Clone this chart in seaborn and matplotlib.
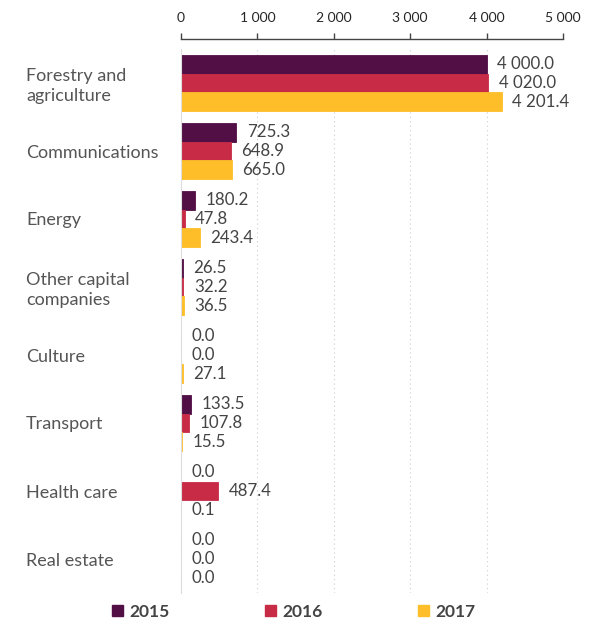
import matplotlib
matplotlib.use("Agg")
import matplotlib.pyplot as plt
import seaborn as sns
import pandas as pd
from matplotlib.patches import Patch

categories = ["Forestry and\nagriculture", "Communications", "Energy", "Other capital\ncompanies",
              "Culture", "Transport", "Health care", "Real estate"]
years = ["2015", "2016", "2017"]
v2015 = [4000.0, 725.3, 180.2, 26.5, 0.0, 133.5, 0.0, 0.0]
v2016 = [4020.0, 648.9, 47.8, 32.2, 0.0, 107.8, 487.4, 0.0]
v2017 = [4201.4, 665.0, 243.4, 36.5, 27.1, 15.5, 0.1, 0.0]
xticks = [0, 1000, 2000, 3000, 4000, 5000]
colors = ["#520F45", "#C82B45", "#FDBE2A"]

rows = []
for yr, vals in zip(years, [v2015, v2016, v2017]):
    for c, v in zip(categories, vals):
        rows.append({"category": c, "year": yr, "value": v})
df = pd.DataFrame(rows)

sns.set_style("white")
plt.rcParams["font.family"] = ["Lato", "DejaVu Sans"]

fig = plt.figure(figsize=(5.89, 6.25), dpi=100)
ax = fig.add_axes([181/589, 1 - 593/625, (563 - 181)/589, (593 - 49)/625])

sns.barplot(data=df, y="category", x="value", hue="year", palette=colors,
            order=categories, hue_order=years, width=0.82, orient="h",
            ax=ax, legend=False, saturation=1, linewidth=0.6)

def fmt(v, dec=1):
    s = f"{v:,.{dec}f}" if dec else f"{v:,.0f}"
    return s.replace(",", " ")

for cont, col in zip(ax.containers, colors):
    for p in cont.patches:
        p.set_edgecolor(col)
    ax.bar_label(cont, labels=[fmt(v) for v in cont.datavalues], padding=7.5,
                 fontsize=12.2, color="#444444")

ax.set_xlim(0, 5000)
ax.set_ylim(7.5, -0.5)
ax.xaxis.tick_top()
ax.set_xticks(xticks)
ax.set_xticklabels([fmt(t, 0) for t in xticks], fontsize=15, color="#555555")
ax.tick_params(axis="x", direction="out", length=4, width=1, color="#444444", pad=7)
ax.tick_params(axis="y", length=0, pad=155 * 0.72)
for lab in ax.get_yticklabels():
    lab.set_ha("left")
    lab.set_fontsize(13)
    lab.set_color("#555555")
    lab.set_linespacing(1.3)
ax.set_xlabel("")
ax.set_ylabel("")
ax.grid(axis="x", linestyle=(0, (1, 3)), color="#cccccc", linewidth=0.8)
ax.grid(axis="y", visible=False)
for s in ["right", "bottom"]:
    ax.spines[s].set_visible(False)
ax.spines["left"].set_color("#dddddd")
ax.spines["top"].set_color("#444444")
ax.spines["top"].set_linewidth(1)
ax.spines["top"].set_position(("outward", 7))

handles = [Patch(facecolor=c, edgecolor=c) for c in colors]
fig.legend(handles, years, loc="center", bbox_to_anchor=(294/589, 1 - 612/625), ncol=3,
           frameon=False, handlelength=0.6, handleheight=0.6, handletextpad=0.4,
           columnspacing=5.5, prop={"weight": "bold", "size": 12.5}, labelcolor="#444444")

fig.savefig("out.png", dpi=100)
